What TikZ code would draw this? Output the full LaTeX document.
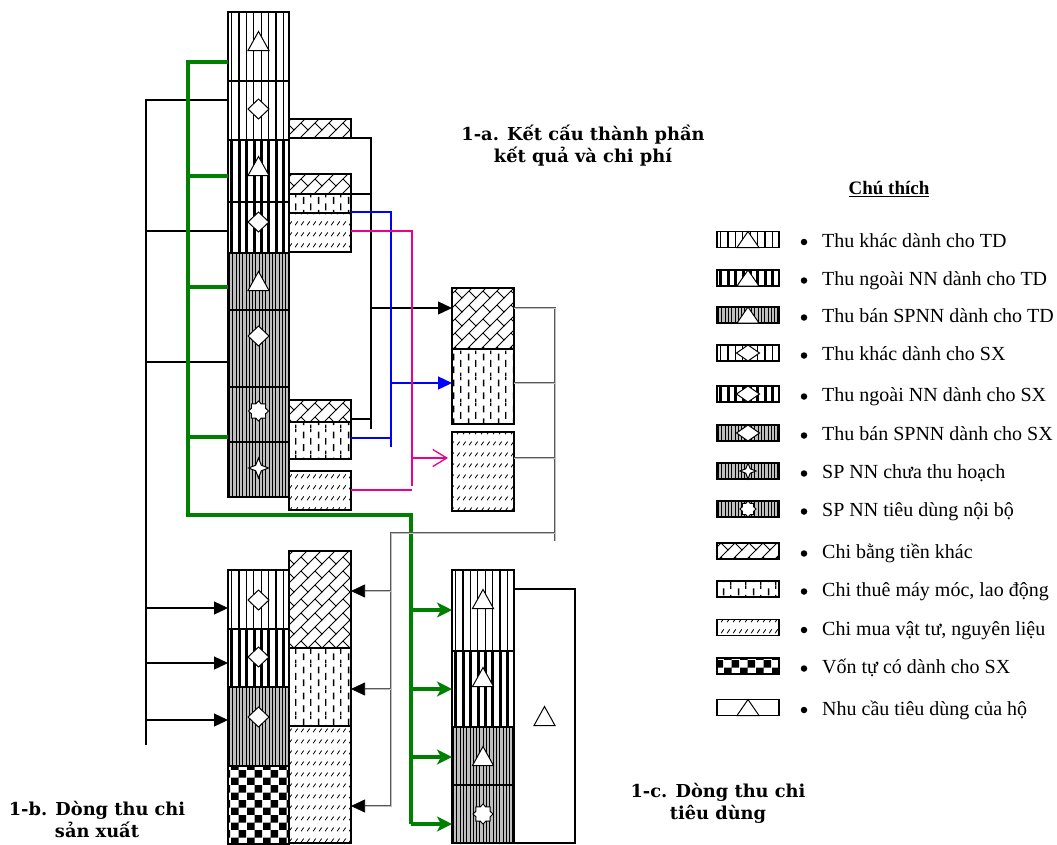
\documentclass[tikz,border=0pt]{standalone}
\usepackage{fontspec}
\setmainfont{Liberation Serif}
\newfontfamily\titlefont{DejaVu Serif}
\usetikzlibrary{patterns,arrows.meta,calc}

\pgfdeclarepatternformonly{brick}{\pgfqpoint{-1pt}{-1pt}}{\pgfqpoint{15pt}{15pt}}{\pgfqpoint{14pt}{14pt}}{%
  \pgfsetlinewidth{1pt}%
  \pgfpathmoveto{\pgfqpoint{-1pt}{-1pt}}\pgfpathlineto{\pgfqpoint{15pt}{15pt}}%
  \pgfpathmoveto{\pgfqpoint{7pt}{7pt}}\pgfpathlineto{\pgfqpoint{14pt}{0pt}}%
  \pgfusepath{stroke}}
\pgfdeclarepatternformonly{vdash}{\pgfqpoint{0pt}{0pt}}{\pgfqpoint{15pt}{26pt}}{\pgfqpoint{15pt}{26pt}}{%
  \pgfpathrectangle{\pgfqpoint{3.1pt}{3pt}}{\pgfqpoint{1.4pt}{7pt}}%
  \pgfpathrectangle{\pgfqpoint{3.1pt}{16pt}}{\pgfqpoint{1.4pt}{7pt}}%
  \pgfpathrectangle{\pgfqpoint{10.6pt}{9.5pt}}{\pgfqpoint{1.4pt}{7pt}}%
  \pgfpathrectangle{\pgfqpoint{10.6pt}{22.5pt}}{\pgfqpoint{1.4pt}{3.5pt}}%
  \pgfpathrectangle{\pgfqpoint{10.6pt}{0pt}}{\pgfqpoint{1.4pt}{3.5pt}}%
  \pgfusepath{fill}}
\pgfdeclarepatternformonly{sdash}{\pgfqpoint{0pt}{0pt}}{\pgfqpoint{6pt}{11pt}}{\pgfqpoint{6pt}{11pt}}{%
  \pgfsetlinewidth{0.9pt}\pgfpathmoveto{\pgfqpoint{1.3pt}{3pt}}\pgfpathlineto{\pgfqpoint{4.3pt}{7pt}}\pgfusepath{stroke}}
\pgfdeclarepatternformonly{checker}{\pgfqpoint{0pt}{0pt}}{\pgfqpoint{15.4pt}{15.4pt}}{\pgfqpoint{15.4pt}{15.4pt}}{%
  \pgfpathrectangle{\pgfqpoint{0pt}{0pt}}{\pgfqpoint{7.7pt}{7.7pt}}%
  \pgfpathrectangle{\pgfqpoint{7.7pt}{7.7pt}}{\pgfqpoint{7.7pt}{7.7pt}}\pgfusepath{fill}}

\tikzset{
  box/.style={rectangle, draw=black, line width=1.4pt, inner sep=0pt, outer sep=0pt, anchor=north west},
  colbox/.style={box, minimum width=61pt},
  sidebox/.style={box, minimum width=62pt},
  legbox/.style={rectangle, draw=black, line width=1.2pt, inner sep=0pt, outer sep=0pt, minimum width=62pt, minimum height=16pt},
  vl/.style n args={3}{path picture={\foreach \xx in {#1,#2,...,72}{\fill[black] ($(path picture bounding box.north west)+(\xx,-2)$) rectangle ++(#3,400);}}},
  pthin/.style={vl={3}{10.4}{1.2}},
  pthick/.style={vl={2.4}{9.8}{3}},
  pgray/.style={fill=gray!50, vl={1}{4.3}{1}},
  pbrick/.style={pattern=brick},
  pdash/.style={pattern=vdash},
  pslash/.style={pattern=sdash},
  pcheck/.style={pattern=checker},
  sym/.style={draw=black, fill=white, line width=1pt, line join=miter},
  bl/.style={draw=black, line width=1.3pt},
  blu/.style={draw=blue, line width=1.3pt},
  mag/.style={draw=magenta, line width=1.3pt},
  grn/.style={draw=green!50!black, line width=4pt},
  gry/.style={draw=black!65, double=black!25, double distance=0.9pt, line width=0.7pt},
  tipk/.style={-{Triangle[length=14pt,width=13pt,color=black]}},
  tipb/.style={-{Triangle[length=14pt,width=13pt]}},
  tipg/.style={-{Stealth[length=15pt,width=15pt,inset=4pt]}},
  tipm/.style={-{Straight Barb[length=14pt,width=17pt,line width=1.3pt]}},
  ttl/.style={font=\titlefont\bfseries\fontsize{17.8}{22}\selectfont, align=center, inner sep=0pt},
  legtext/.style={font=\fontsize{20}{24}\selectfont, anchor=base west, inner sep=0pt},
  bul/.style={circle, fill=black, inner sep=0pt, minimum size=6.5pt},
  tri/.pic={\draw[sym] (-10.5,8.5)--(10.5,8.5)--(0,-10.5)--cycle;},
  dia/.pic={\draw[sym] (0,-10)--(10.5,0)--(0,10)--(-10.5,0)--cycle;},
  oct/.pic={\draw[sym] (0:10)--(22.5:7.6)--(45:10)--(67.5:7.6)--(90:10)--(112.5:7.6)--(135:10)--(157.5:7.6)--(180:10)--(202.5:7.6)--(225:10)--(247.5:7.6)--(270:10)--(292.5:7.6)--(315:10)--(337.5:7.6)--cycle;},
  star4/.pic={\draw[sym] (0,-10)--(2.8,-2.8)--(10,0)--(2.8,2.8)--(0,10)--(-2.8,2.8)--(-10,0)--(-2.8,-2.8)--cycle;},
  ltri/.pic={\draw[sym] (-11,8)--(11,8)--(0,-8)--cycle;},
  ldia/.pic={\draw[sym] (0,-8)--(11.5,0)--(0,8)--(-11.5,0)--cycle;},
}

\begin{document}
\begin{tikzpicture}[x=1pt,y=-1pt]
\path[fill=white] (0,0) rectangle (1057,844);
\useasboundingbox (0,0) rectangle (1057,844);

% ---------- 1-a main column ----------
\node[colbox, pthin,  minimum height=69pt] (a1) at (228,12) {};
\node[colbox, pthin,  minimum height=59pt] (a2) at (228,81) {};
\node[colbox, pthick, minimum height=62pt] (a3) at (228,140) {};
\node[colbox, pthick, minimum height=51pt] (a4) at (228,202) {};
\node[colbox, pgray,  minimum height=57pt] (a5) at (228,253) {};
\node[colbox, pgray,  minimum height=77pt] (a6) at (228,310) {};
\node[colbox, pgray,  minimum height=55pt] (a7) at (228,387) {};
\node[colbox, pgray,  minimum height=55pt] (a8) at (228,442) {};
\pic at (258.5,42) {tri};
\pic at (258.5,109) {dia};
\pic at (258.5,167) {tri};
\pic at (258.5,222) {dia};
\pic at (258.5,282) {tri};
\pic at (258.5,336) {dia};
\pic at (258.5,411) {oct};
\pic at (258.5,468) {star4};

% side boxes
\node[sidebox, pbrick, minimum height=19pt] (bA) at (289,119) {};
\node[sidebox, pbrick, minimum height=20pt] (bB) at (289,174) {};
\node[sidebox, pdash,  minimum height=19pt] (bC) at (289,194) {};
\node[sidebox, pslash, minimum height=39pt] (bD) at (289,213) {};
\node[sidebox, pbrick, minimum height=22pt] (bE) at (289,400) {};
\node[sidebox, pdash,  minimum height=37pt] (bF) at (289,422) {};
\node[sidebox, pslash, minimum height=39pt] (bG) at (289,471) {};

% middle right boxes
\node[sidebox, pbrick, minimum height=61pt] (mA) at (452,288) {};
\node[sidebox, pdash,  minimum height=75pt] (mB) at (452,349) {};
\node[sidebox, pslash, minimum height=79pt] (mC) at (452,432) {};

% ---------- 1-b column ----------
\node[colbox, pthin,  minimum height=59pt] (c1) at (228,570) {};
\node[colbox, pthick, minimum height=58pt] (c2) at (228,629) {};
\node[colbox, pgray,  minimum height=79pt] (c3) at (228,687) {};
\node[colbox, pcheck, minimum height=78pt] (c4) at (228,766) {};
\pic at (258.5,600) {dia};
\pic at (258.5,657) {dia};
\pic at (258.5,717) {dia};
\node[sidebox, pbrick, minimum height=97pt]  (d1) at (289,551) {};
\node[sidebox, pdash,  minimum height=78pt]  (d2) at (289,648) {};
\node[sidebox, pslash, minimum height=117pt] (d3) at (289,726) {};

% ---------- 1-c column ----------
\node[sidebox, pthin,  minimum height=81pt] (e1) at (452,570) {};
\node[sidebox, pthick, minimum height=76pt] (e2) at (452,651) {};
\node[sidebox, pgray,  minimum height=58pt] (e3) at (452,727) {};
\node[sidebox, pgray,  minimum height=58pt] (e4) at (452,785) {};
\node[box, minimum width=61pt, minimum height=254pt] (big) at (514,589) {};
\pic at (483,600) {tri};
\pic at (483,678) {tri};
\pic at (483,757) {tri};
\pic at (483,814) {oct};
\pic at (544.5,717) {tri};

% ---------- black left connectors ----------
\coordinate (L0) at (146,100);
\coordinate (L1) at (146,745);
\coordinate (L2) at (146,231);
\coordinate (L3) at (146,362);
\coordinate (L4) at (146,608);
\coordinate (L5) at (146,663);
\coordinate (L6) at (146,720);
\draw[bl] (L1) -- (L0) -- (L0 -| a2.west);
\draw[bl] (L2) -- (L2 -| a4.west);
\draw[bl] (L3) -- (L3 -| a6.west);
\draw[bl, tipb] (L4) -- (L4 -| c1.west);
\draw[bl, tipb] (L5) -- (L5 -| c2.west);
\draw[bl, tipb] (L6) -- (L6 -| c3.west);

% ---------- green ----------
\coordinate (G0) at (188,62);
\coordinate (G1) at (188,176);
\coordinate (G2) at (188,287);
\coordinate (G3) at (188,437);
\coordinate (G4) at (188,515);
\coordinate (G5) at (411,515);
\coordinate (G6) at (411,824);
\coordinate (G7) at (411,610);
\coordinate (G8) at (411,689);
\coordinate (G9) at (411,757);
\draw[grn] (G0 -| a1.west) -- (G0) -- (G4) -- (G5) -- (G6);
\draw[grn] (G1) -- (G1 -| a3.west);
\draw[grn] (G2) -- (G2 -| a5.west);
\draw[grn] (G3) -- (G3 -| a7.west);
\draw[grn, tipg] (G7) -- (G7 -| e1.west);
\draw[grn, tipg] (G8) -- (G8 -| e2.west);
\draw[grn, tipg] (G9) -- (G9 -| e3.west);
\draw[grn, tipg] (G6) -- (G6 -| e4.west);

% ---------- black right ----------
\coordinate (R0) at (371,138);
\coordinate (R1) at (371,429);
\coordinate (R2) at (371,419);
\coordinate (R3) at (371,308);
\draw[bl] (bA.south east) -- (R0) -- (R1);
\draw[bl] (bB.south east) -- (bB.south east -| R0);
\draw[bl] (R2 -| bE.east) -- (R2);
\draw[bl, tipb] (R3) -- (R3 -| mA.west);

% ---------- blue ----------
\coordinate (U0) at (391,212);
\coordinate (U1) at (391,447);
\coordinate (U2) at (391,438);
\coordinate (U3) at (391,383);
\draw[blu] (U0 -| bC.east) -- (U0) -- (U1);
\draw[blu] (U2 -| bF.east) -- (U2);
\draw[blu, tipb] (U3) -- (U3 -| mB.west);

% ---------- magenta ----------
\coordinate (M0) at (412,231);
\coordinate (M1) at (412,486);
\coordinate (M2) at (412,490);
\coordinate (M3) at (412,458);
\coordinate (M4) at (448,458);
\draw[mag] (M0 -| bD.east) -- (M0) -- (M1);
\draw[mag] (M2 -| bG.east) -- (M2);
\draw[mag, tipm] (M3) -- (M4);

% ---------- gray ----------
\coordinate (Y0) at (555,308);
\coordinate (Y1) at (555,541);
\coordinate (Y2) at (555,383);
\coordinate (Y3) at (555,458);
\coordinate (Y4) at (555,533);
\coordinate (Y5) at (391,533);
\coordinate (Y6) at (391,806);
\coordinate (Y7) at (391,591);
\coordinate (Y8) at (391,689);
\draw[gry] (Y0 -| mA.east) -- (Y0) -- (Y1);
\draw[gry] (Y2 -| mB.east) -- (Y2);
\draw[gry] (Y3 -| mC.east) -- (Y3);
\draw[gry, tipk] (Y4) -- (Y5) -- (Y6) -- (Y6 -| d3.east);
\draw[gry, tipk] (Y7) -- (Y7 -| d1.east);
\draw[gry, tipk] (Y8) -- (Y8 -| d2.east);

% ---------- titles ----------
\node[ttl] (t1) at (583,146) {1-a. Kết cấu thành phần\\kết quả và chi phí};
\node[ttl] (t2) at (97,819) {1-b. Dòng thu chi\\sản xuất};
\node[ttl] (t3) at (718,803) {1-c. Dòng thu chi\\tiêu dùng};

% ---------- legend ----------
\node[font=\bfseries\fontsize{19}{22}\selectfont, inner sep=0pt] (leg) at (889,189) {\underline{Chú thích}};

\node[legbox, pthin]  (k1)  at (748,239.5) {}; \pic at (k1.center) {ltri};
\node[legbox, pthick] (k2)  at (748,278) {};   \pic at (k2.center) {ltri};
\node[legbox, pgray]  (k3)  at (748,315) {};   \pic at (k3.center) {ltri};
\node[legbox, pthin]  (k4)  at (748,353) {};   \pic at (k4.center) {ldia};
\node[legbox, pthick] (k5)  at (748,394) {};   \pic at (k5.center) {ldia};
\node[legbox, pgray]  (k6)  at (748,433) {};   \pic at (k6.center) {ldia};
\node[legbox, pgray]  (k7)  at (748,471) {};   \pic[scale=0.8] at (k7.center) {star4};
\node[legbox, pgray]  (k8)  at (748,509) {};   \pic[scale=0.8] at (k8.center) {oct};
\node[legbox, pbrick] (k9)  at (748,551) {};
\node[legbox, pdash]  (k10) at (748,589) {};
\node[legbox, pslash] (k11) at (748,627.5) {};
\node[legbox, pcheck] (k12) at (748,666) {};
\node[legbox]         (k13) at (748,707.5) {}; \pic at (k13.center) {ltri};

\foreach \n/\yy/\txt in {1/239.5/Thu khác dành cho TD, 2/278/Thu ngoài NN dành cho TD, 3/315/Thu bán SPNN dành cho TD, 4/353/Thu khác dành cho SX, 5/394/Thu ngoài NN dành cho SX, 6/433/Thu bán SPNN dành cho SX, 7/471/SP NN chưa thu hoạch, 8/509/SP NN tiêu dùng nội bộ, 9/551/Chi bằng tiền khác, 10/589/{Chi thuê máy móc, lao động}, 11/627.5/{Chi mua vật tư, nguyên liệu}, 12/666/Vốn tự có dành cho SX, 13/707.5/Nhu cầu tiêu dùng của hộ}{
  \node[bul] (bu\n) at (804,\yy+2.5) {};
  \node[legtext] (lt\n) at (822,\yy+7.5) {\txt};
}
\end{tikzpicture}
\end{document}
